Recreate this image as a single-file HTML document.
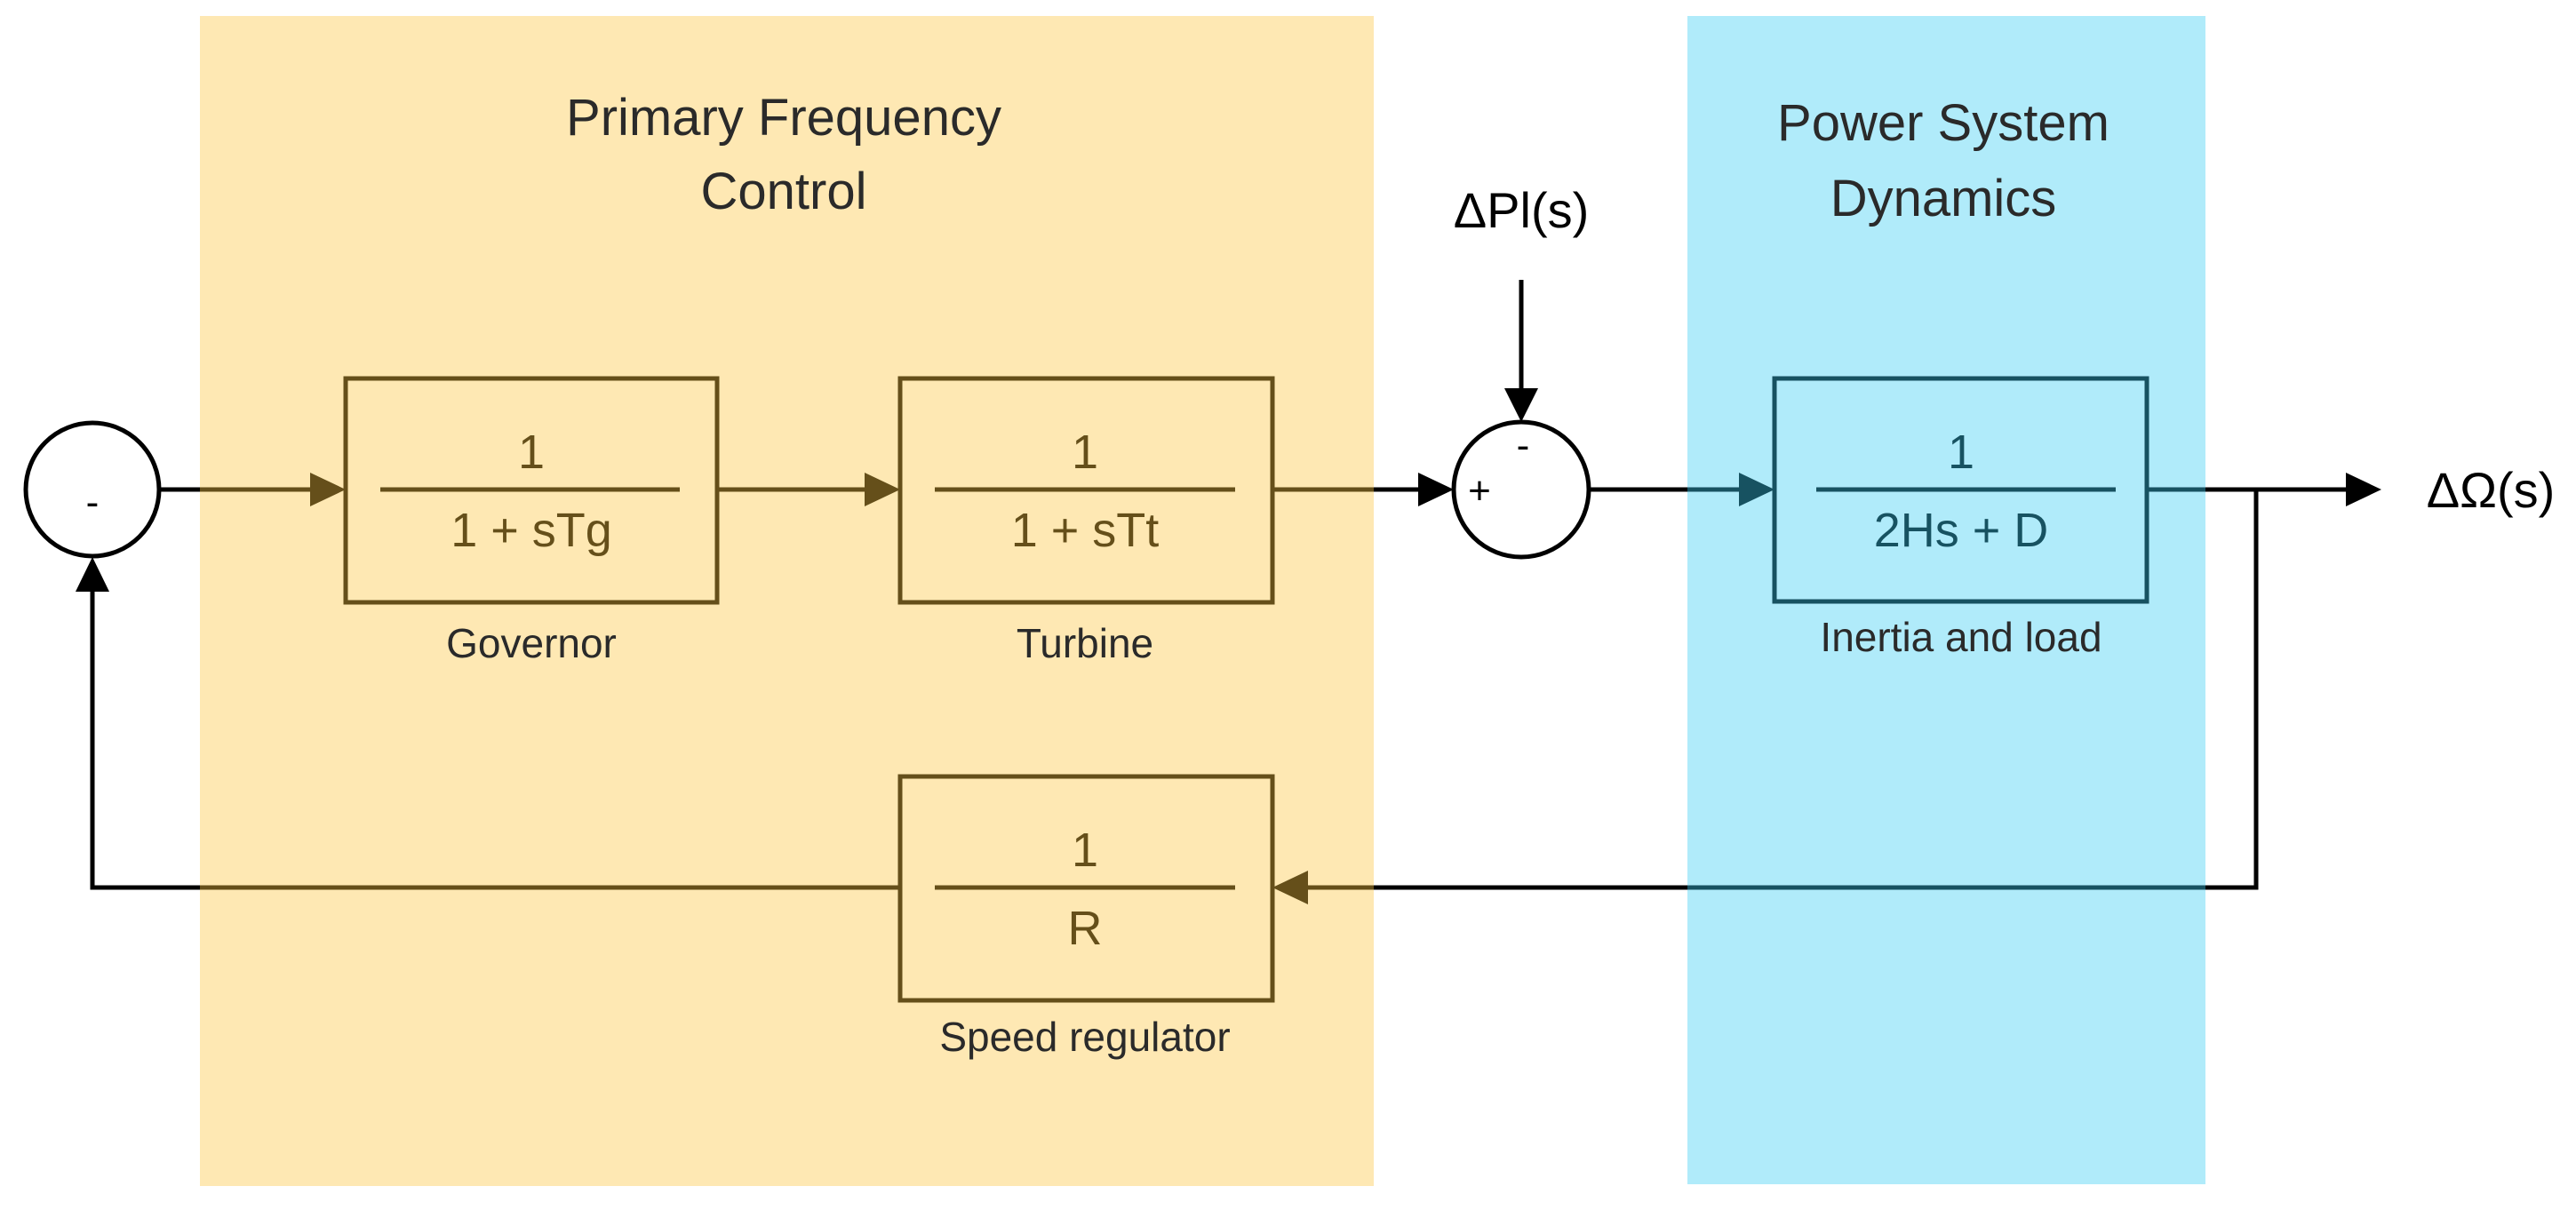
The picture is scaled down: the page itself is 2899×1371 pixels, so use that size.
<!DOCTYPE html>
<html><head><style>html,body{margin:0;padding:0;background:#fff}svg{display:block}</style></head>
<body>
<svg width="2899" height="1371" viewBox="0 0 2899 1371" xmlns="http://www.w3.org/2000/svg" font-family="Liberation Sans, sans-serif">
<g stroke="#000" stroke-width="5" fill="none">
  <circle cx="104" cy="551" r="75" fill="#fff"/>
  <circle cx="1712" cy="551" r="76" fill="#fff"/>
  <line x1="179" y1="551" x2="350" y2="551"/>
  <line x1="807" y1="551" x2="975" y2="551"/>
  <line x1="1432" y1="551" x2="1598" y2="551"/>
  <line x1="1788" y1="551" x2="1958" y2="551"/>
  <line x1="2416" y1="551" x2="2640" y2="551"/>
  <polyline points="2539,551 2539,999 1470,999"/>
  <polyline points="1013,999 104,999 104,664"/>
  <line x1="1712" y1="315" x2="1712" y2="440"/>
  <rect x="389" y="426" width="418" height="252"/>
  <rect x="1013" y="426" width="419" height="252"/>
  <rect x="1013" y="874" width="419" height="252"/>
  <rect x="1997" y="426" width="419" height="251"/>
  <line x1="428" y1="551" x2="765" y2="551"/>
  <line x1="1052" y1="551" x2="1390" y2="551"/>
  <line x1="1052" y1="999" x2="1390" y2="999"/>
  <line x1="2044" y1="551" x2="2381" y2="551"/>
</g>
<g fill="#000">
  <polygon points="389,551 349,532 349,570"/>
  <polygon points="1013,551 973,532 973,570"/>
  <polygon points="1636,551 1596,532 1596,570"/>
  <polygon points="1997,551 1957,532 1957,570"/>
  <polygon points="2680,551 2640,532 2640,570"/>
  <polygon points="1432,999 1472,980 1472,1018"/>
  <polygon points="104,627 85,666 123,666"/>
  <polygon points="1712,475 1693,437 1731,437"/>
</g>
<g fill="#000" text-anchor="middle">
  <text x="598" y="527" font-size="54">1</text>
  <text x="598" y="615" font-size="54">1 + sTg</text>
  <text x="1221" y="527" font-size="54">1</text>
  <text x="1221" y="615" font-size="54">1 + sTt</text>
  <text x="1221" y="975" font-size="54">1</text>
  <text x="1221" y="1063" font-size="54">R</text>
  <text x="2207" y="527" font-size="54">1</text>
  <text x="2207" y="615" font-size="54">2Hs + D</text>
  <text x="1712" y="256" font-size="56">ΔPl(s)</text>
  <text x="2803" y="571" font-size="56">ΔΩ(s)</text>
  <text x="104" y="580" font-size="44">-</text>
  <text x="1665" y="567" font-size="44">+</text>
  <text x="1714" y="516" font-size="44">-</text>
</g>
<rect x="225" y="18" width="1321" height="1317" fill="rgb(252,198,65)" fill-opacity="0.4"/>
<rect x="1899" y="18" width="583" height="1315" fill="rgb(57,205,242)" fill-opacity="0.4"/>
<g fill="#2a2a2a" text-anchor="middle">
  <text x="598" y="740" font-size="46">Governor</text>
  <text x="1221" y="740" font-size="46">Turbine</text>
  <text x="1221" y="1183" font-size="46">Speed regulator</text>
  <text x="2207" y="733" font-size="46">Inertia and load</text>
  <text x="882" y="152" font-size="58">Primary Frequency</text>
  <text x="882" y="235" font-size="58">Control</text>
  <text x="2187" y="158" font-size="58">Power System</text>
  <text x="2187" y="243" font-size="58">Dynamics</text>
</g>
</svg>
</body></html>
